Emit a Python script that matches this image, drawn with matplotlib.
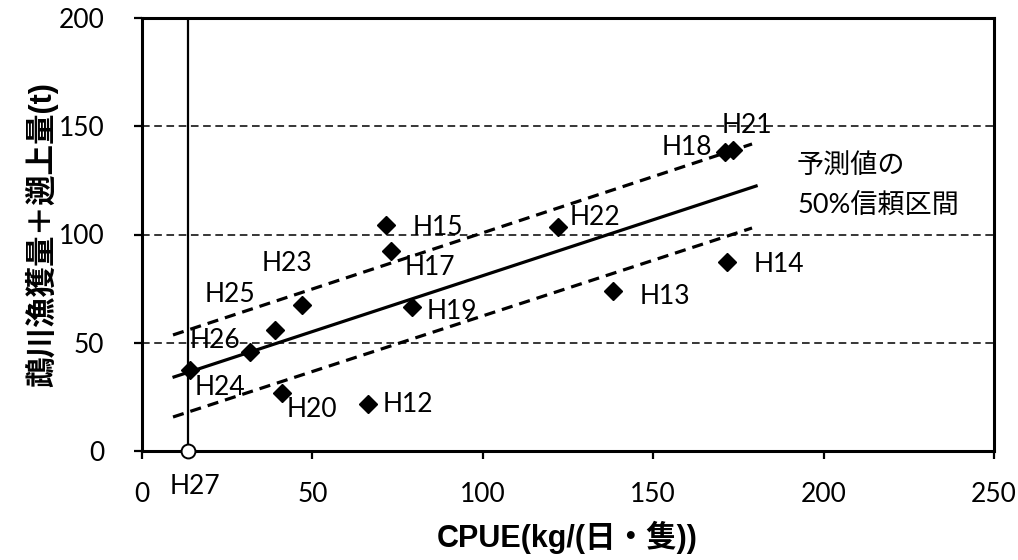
import matplotlib
matplotlib.use("Agg")
from matplotlib import pyplot as plt

plt.rcParams['font.family'] = ['Lato', 'Noto Sans CJK JP', 'DejaVu Sans']

# observed years: CPUE vs catch + run-up
years = ['H12', 'H13', 'H14', 'H15', 'H17', 'H18', 'H19', 'H20',
         'H21', 'H22', 'H23', 'H24', 'H25', 'H26']
cpue = [66.3, 138.2, 171.7, 71.6, 73.1, 171.1, 79.2, 41.1,
        173.4, 122.1, 46.9, 14.1, 39.0, 31.7]
catch = [21.7, 73.9, 87.3, 104.4, 92.4, 138.1, 66.5, 26.8,
         139.0, 103.5, 67.4, 37.4, 55.9, 45.7]

# forecast year
pred_year = 'H27'
pred_cpue = 13.5
pred_catch = 0

# regression line and 50% prediction interval
fit_x = [9.4, 180.2]
fit_y = [34.2, 122.4]
band_x = [9.1, 179.0]
band_upper = [53.6, 141.8]
band_lower = [15.7, 103.0]

xticks = [0, 50, 100, 150, 200, 250]
yticks = [0, 50, 100, 150, 200]

# label offsets in pixels (dx, dy, ha)
label_offsets = {
    'H12': (15, 0, 'left'), 'H13': (27, -5, 'left'), 'H14': (26, -3, 'left'),
    'H15': (27, -3, 'left'), 'H17': (14, -17, 'left'), 'H18': (-13, 5, 'right'),
    'H19': (15, -4, 'left'), 'H20': (30, -17, 'center'), 'H21': (14, 25, 'center'),
    'H22': (12, 9, 'left'), 'H23': (-15, 42, 'center'), 'H24': (30, -17, 'center'),
    'H25': (-45, 35, 'center'), 'H26': (-35, 12, 'center'),
}

fig = plt.figure(figsize=(10.18, 5.6), dpi=100)
ax = fig.add_axes([142 / 1018, 1 - 451 / 560, 852 / 1018, 433 / 560])

ax.set_xlim(0, 250)
ax.set_ylim(0, 200)
ax.set_xticks(xticks)
ax.set_yticks(yticks)

ax.yaxis.grid(True, linestyle=(0, (5, 3)), color='black', linewidth=1.1)
ax.set_axisbelow(True)

for s in ax.spines.values():
    s.set_linewidth(2.2)
ax.tick_params(axis='both', direction='out', length=6, width=1.6, labelsize=19)
ax.tick_params(axis='y', pad=21)
ax.tick_params(axis='x', pad=16)

# vertical line at forecast CPUE
ax.axvline(pred_cpue, color='black', linewidth=1.6, zorder=2)

ax.plot(fit_x, fit_y, color='black', linewidth=2.3, zorder=3)
ax.plot(band_x, band_upper, color='black', linewidth=2.3, linestyle=(0, (3.5, 2.2)), zorder=3)
ax.plot(band_x, band_lower, color='black', linewidth=2.3, linestyle=(0, (3.5, 2.2)), zorder=3)

ax.plot(cpue, catch, linestyle='none', marker='D', markersize=9.5,
        color='black', zorder=4)
ax.plot([pred_cpue], [pred_catch], linestyle='none', marker='o', markersize=10,
        markerfacecolor='white', markeredgecolor='black', markeredgewidth=1.4,
        zorder=5, clip_on=False)

for name, x, y in zip(years, cpue, catch):
    dx, dy, ha = label_offsets[name]
    ax.annotate(name, (x, y), xytext=(dx, dy), textcoords='offset pixels',
                ha=ha, va='center', fontsize=19, zorder=6)
ax.annotate(pred_year, (pred_cpue, pred_catch), xytext=(7, -36),
            textcoords='offset pixels', ha='center', va='center',
            fontsize=19, annotation_clip=False)

fig.text(797 / 1018, 1 - 165 / 560, '予測値の', fontsize=19.5,
         ha='left', va='center', family=['Noto Sans CJK JP'])
fig.text(797 / 1018, 1 - 205 / 560, '50%信頼区間', fontsize=19.5,
         ha='left', va='center', family=['Lato', 'Noto Sans CJK JP'])

fig.text(567 / 1018, 1 - 537 / 560, 'CPUE(kg/(日・隻))', fontsize=22,
         fontweight='bold', ha='center', va='center',
         family=['Liberation Sans', 'Noto Sans CJK JP'])
fig.text(42 / 1018, 1 - 235 / 560, '鵡川漁獲量＋遡上量(t)', fontsize=22,
         fontweight='bold', ha='center', va='center', rotation=90,
         family=['Liberation Sans', 'Noto Sans CJK JP'])

fig.savefig('out.png', dpi=100)
